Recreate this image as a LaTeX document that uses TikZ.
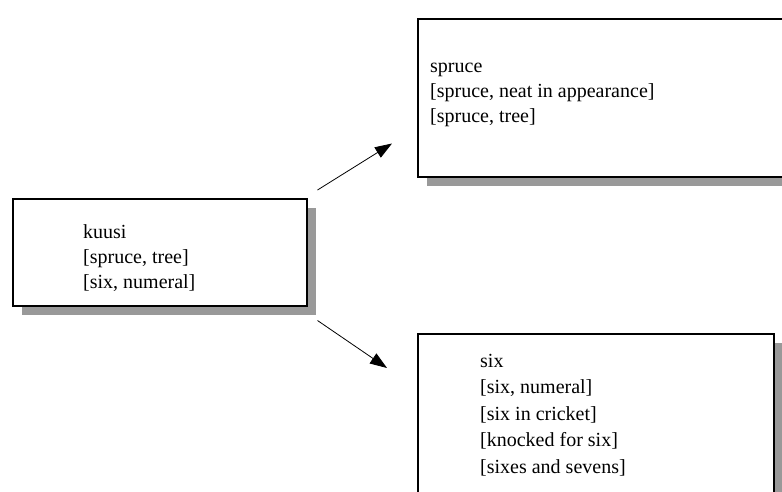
\documentclass[tikz,border=0pt]{standalone}
\usepackage{fontspec}
\setmainfont{Liberation Serif}
\usetikzlibrary{arrows.meta,shadows}

\begin{document}
\begin{tikzpicture}[x=1pt, y=-1pt, >={Triangle[length=17pt,width=12pt]},
    box/.style={draw, line width=1.5pt, fill=white, inner sep=0pt, anchor=north west,
        drop shadow={shadow xshift=9pt, shadow yshift=-9pt, fill=black!40, opacity=1}},
    sense/.style={align=left, inner sep=0pt, anchor=base west,
        font=\fontsize{20}{25}\selectfont},
    link/.style={->, line width=0.8pt}]
    \useasboundingbox (0,0) rectangle (782,491);
    \clip (0,0) rectangle (782,491);

    % the Finnish word (base anchor sits on the last line)
    \node[box, minimum width=294pt, minimum height=107pt] (kuusi) at (12,198) {};
    \node[sense] (kuusi-senses) at ([shift={(71,90)}]kuusi.north west)
        {kuusi\\{}[spruce, tree]\\{}[six, numeral]};

    % its two English readings
    \node[box, minimum width=390pt, minimum height=158pt] (spruce) at (417,18) {};
    \node[sense] (spruce-senses) at ([shift={(13,104)}]spruce.north west)
        {spruce\\{}[spruce, neat in appearance]\\{}[spruce, tree]};

    \node[box, minimum width=356pt, minimum height=190pt] (six) at (417,333) {};
    \node[sense, font=\fontsize{20}{26.5}\selectfont] (six-senses)
        at ([shift={(63,140)}]six.north west)
        {six\\{}[six, numeral]\\{}[six in cricket]\\{}[knocked for six]\\{}[sixes and sevens]};

    \draw[link] ([shift={(10,-8)}]kuusi.north east) -- ([shift={(-25,-34)}]spruce.south west);
    \draw[link] ([shift={(10,14)}]kuusi.south east) -- ([shift={(-30,35)}]six.north west);
\end{tikzpicture}
\end{document}
